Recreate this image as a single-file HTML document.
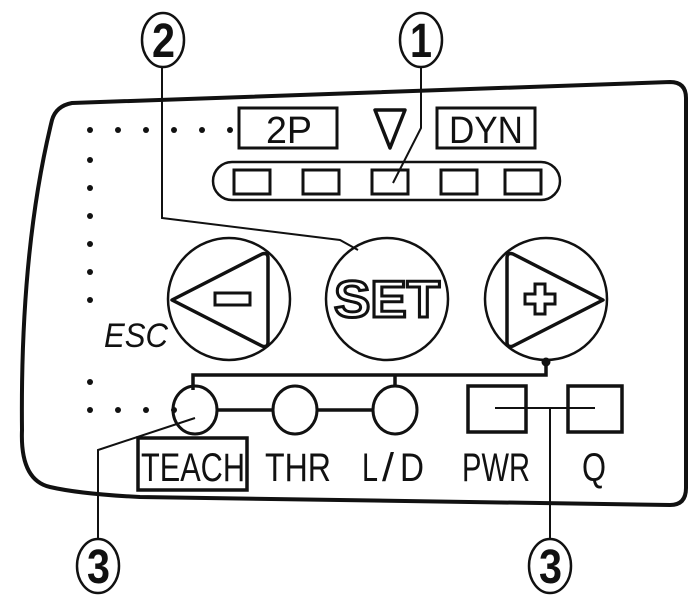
<!DOCTYPE html>
<html><head><style>
html,body{margin:0;padding:0;background:#fff;width:693px;height:600px;overflow:hidden}
text{font-family:"Liberation Sans",sans-serif;fill:#111}
</style></head><body>
<svg width="693" height="600" viewBox="0 0 693 600" xmlns="http://www.w3.org/2000/svg">
<g fill="none" stroke="#111">
<path d="M72 103 L670 82 Q686 82 686 98 L686 488 Q686 505 670 505 L140 497 Q80 494 50 487 Q20 480 22 430 Q20 250 52 120 Q56 106 72 103 Z" stroke-width="4"/>
<ellipse cx="163" cy="40" rx="21" ry="27" stroke-width="2.5"/>
<ellipse cx="421" cy="40" rx="21" ry="27" stroke-width="2.5"/>
<ellipse cx="98" cy="566" rx="21" ry="27" stroke-width="2.5"/>
<ellipse cx="550" cy="566" rx="21" ry="27" stroke-width="2.5"/>
<path d="M162 67 L162 218 L340 240 L358 250" stroke-width="2"/>
<path d="M421 67 L421 128 L393 183" stroke-width="2"/>
<path d="M98 539 L98 450 L195 418" stroke-width="2"/>
<path d="M550 539 L550 408 M495 408 L595 408" stroke-width="2"/>
<rect x="239" y="108" width="98" height="40" stroke-width="3"/>
<rect x="437" y="108" width="98" height="40" stroke-width="3"/>
<path d="M375 110 L405 110 L390 148 Z" stroke-width="3.5" stroke-linejoin="round"/>
<rect x="213" y="162" width="347" height="38" rx="19" stroke-width="2.5"/>
<rect x="234" y="170" width="36" height="24" stroke-width="3"/>
<rect x="303" y="170" width="36" height="24" stroke-width="3"/>
<rect x="372" y="170" width="36" height="24" stroke-width="3"/>
<rect x="441" y="170" width="36" height="24" stroke-width="3"/>
<rect x="505" y="170" width="36" height="24" stroke-width="3"/>
<circle cx="229" cy="299" r="61" stroke-width="2.5"/>
<circle cx="387" cy="299" r="61" stroke-width="2.5"/>
<circle cx="546" cy="299" r="61" stroke-width="2.5"/>
<path d="M172 300 L262 254 Q268 252 268 258 L268 342 Q268 348 262 346 Z" stroke-width="3.5" stroke-linejoin="round"/>
<rect x="215" y="293" width="35" height="12" stroke-width="3"/>
<path d="M603 300 L513 254 Q507 252 507 258 L507 342 Q507 348 513 346 Z" stroke-width="3.5" stroke-linejoin="round"/>
<path d="M525 294 L535 294 L535 284 L545 284 L545 294 L555 294 L555 304 L545 304 L545 314 L535 314 L535 304 L525 304 Z" stroke-width="3"/>
<path d="M193 390 L193 375 L546 375 L546 362 M395 375 L395 386" stroke-width="3.5"/>
<circle cx="546" cy="362" r="4" fill="#111"/>
<ellipse cx="195" cy="410" rx="22" ry="24" stroke-width="3"/>
<ellipse cx="295" cy="410" rx="22" ry="24" stroke-width="3"/>
<ellipse cx="395" cy="410" rx="22" ry="24" stroke-width="3"/>
<path d="M217 410 L273 410 M317 410 L373 410" stroke-width="3.5"/>
<rect x="468" y="386" width="58" height="46" stroke-width="3.5"/>
<rect x="568" y="386" width="54" height="46" stroke-width="3.5"/>
<rect x="138" y="438" width="109" height="52" stroke-width="3.5"/>
</g>
<g fill="#111">
<circle cx="90" cy="130" r="3"/><circle cx="118" cy="130" r="3"/><circle cx="146" cy="130" r="3"/><circle cx="174" cy="130" r="3"/><circle cx="202" cy="130" r="3"/><circle cx="230" cy="130" r="3"/>
<circle cx="90" cy="160" r="3"/><circle cx="90" cy="188" r="3"/><circle cx="90" cy="216" r="3"/><circle cx="90" cy="244" r="3"/><circle cx="90" cy="272" r="3"/><circle cx="90" cy="300" r="3"/><circle cx="90" cy="382" r="3"/><circle cx="90" cy="410" r="3"/>
<circle cx="118" cy="410" r="3"/><circle cx="146" cy="410" r="3"/><circle cx="174" cy="410" r="3"/>
</g>
<text x="266" y="143" font-size="38" textLength="46" lengthAdjust="spacingAndGlyphs">2P</text>
<text x="449" y="143" font-size="38" textLength="74" lengthAdjust="spacingAndGlyphs">DYN</text>
<text x="152" y="57" font-size="48" font-weight="bold" textLength="23" lengthAdjust="spacingAndGlyphs">2</text>
<text x="410" y="57" font-size="48" font-weight="bold" textLength="22" lengthAdjust="spacingAndGlyphs">1</text>
<text x="87" y="583" font-size="48" font-weight="bold" textLength="23" lengthAdjust="spacingAndGlyphs">3</text>
<text x="539" y="583" font-size="48" font-weight="bold" textLength="23" lengthAdjust="spacingAndGlyphs">3</text>
<text x="104" y="347" font-size="34" font-style="italic" textLength="64" lengthAdjust="spacingAndGlyphs">ESC</text>
<text x="387" y="317" font-size="52" font-weight="bold" text-anchor="middle" style="fill:#fff;stroke:#111;stroke-width:3" textLength="106" lengthAdjust="spacingAndGlyphs">SET</text>
<text x="141" y="481" font-size="40" textLength="104" lengthAdjust="spacingAndGlyphs">TEACH</text>
<text x="265" y="481" font-size="40" textLength="66" lengthAdjust="spacingAndGlyphs">THR</text>
<text x="362" y="481" font-size="40" textLength="16" lengthAdjust="spacingAndGlyphs">L</text>
<text x="382" y="481" font-size="40" textLength="12" lengthAdjust="spacingAndGlyphs">/</text>
<text x="400" y="481" font-size="40" textLength="24" lengthAdjust="spacingAndGlyphs">D</text>
<text x="462" y="481" font-size="40" textLength="68" lengthAdjust="spacingAndGlyphs">PWR</text>
<text x="582" y="481" font-size="40" textLength="24" lengthAdjust="spacingAndGlyphs">Q</text>
</svg>
</body></html>
